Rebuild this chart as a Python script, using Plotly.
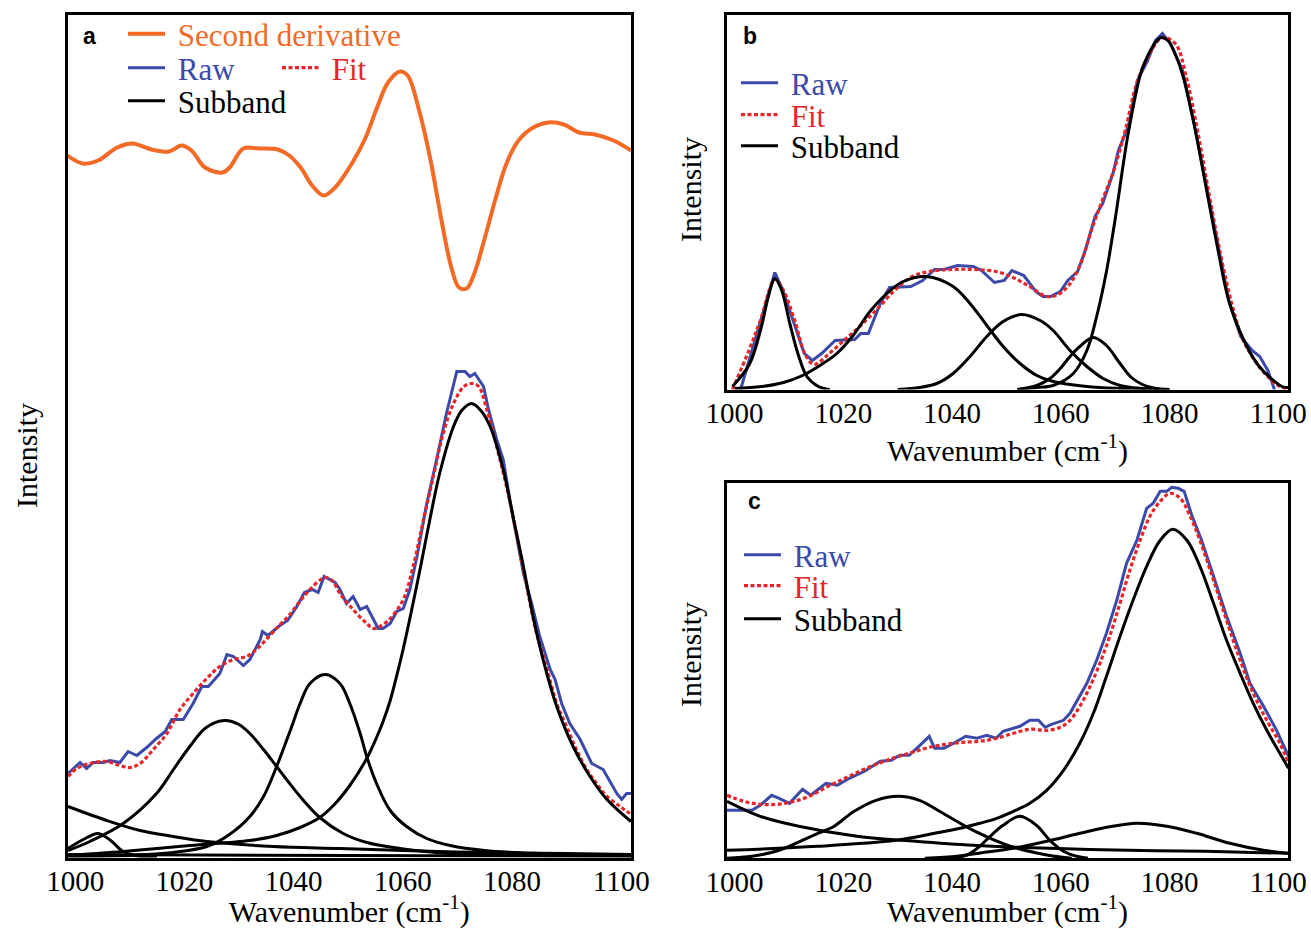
import plotly.graph_objects as go

# ---------------- Panel a data ----------------
A_D2_WN = [998.6, 1001.4, 1004.2, 1007.7, 1010.5, 1014.0, 1017.2, 1019.5, 1021.3, 1023.8, 1027.0, 1028.3,
           1030.8, 1033.6, 1037.1, 1039.2, 1041.3, 1043.4, 1045.5, 1047.6, 1051.0, 1053.2, 1055.3, 1057.3,
           1059.5, 1060.9, 1063.0, 1065.1, 1067.1, 1068.9, 1070.3, 1071.7, 1073.1, 1074.9, 1076.9, 1079.0,
           1081.2, 1083.9, 1086.7, 1089.5, 1092.3, 1095.2, 1098.6, 1101.8]
A_D2_I = [702, 694, 697, 710, 714, 708, 706, 712, 707, 690, 685, 690,
          709, 709, 708, 702, 690, 672, 662, 670, 697, 720, 750, 775,
          786, 782, 747, 697, 637, 590, 570, 569, 584, 617, 657, 694,
          717, 730, 735, 733, 725, 723, 717, 707]

A_RAW_WN = [998.7, 1000.9, 1002.1, 1003.3, 1005.2, 1006.4, 1008.2, 1009.7, 1011.3, 1013.1, 1014.9, 1016.5,
            1017.7, 1019.8, 1021.6, 1023.2, 1024.4, 1026.5, 1027.8, 1029.0, 1030.8, 1032.0, 1033.9, 1034.3,
            1035.3, 1037.5, 1038.9, 1040.5, 1042.0, 1043.4, 1044.5, 1045.6, 1047.6, 1048.5, 1049.7, 1050.9,
            1052.2, 1053.4, 1055.5, 1056.4, 1057.7, 1058.9, 1060.1, 1061.3, 1062.6, 1064.4, 1066.2, 1068.0,
            1069.9, 1071.4, 1072.3, 1073.2, 1074.8, 1075.7, 1077.2, 1078.4, 1079.6, 1080.9, 1082.1, 1083.6,
            1085.1, 1087.0, 1087.9, 1089.1, 1090.6, 1092.5, 1094.6, 1096.7, 1099.2, 1100.1, 1101.0, 1101.8]
A_RAW_I = [84, 95, 89, 95, 95, 97, 95, 106, 102, 110, 119, 126,
           138, 138, 154, 171, 171, 184, 203, 201, 192, 198, 218, 226,
           222, 232, 237, 250, 265, 268, 265, 281, 275, 268, 254, 261,
           248, 251, 229, 229, 234, 246, 249, 268, 301, 354, 398, 444,
           486, 486, 481, 484, 471, 448, 418, 398, 358, 318, 284, 254,
           221, 188, 178, 154, 134, 118, 94, 88, 64, 58, 64, 64]

A_FIT_WN = [998.7, 1000.3, 1002.7, 1005.8, 1008.2, 1010.0, 1011.9, 1014.3, 1016.8, 1019.2, 1021.6, 1024.1,
            1026.5, 1029.0, 1031.4, 1033.2, 1035.0, 1037.0, 1039.0, 1041.0, 1043.0, 1045.0, 1046.0, 1047.2,
            1048.5, 1050.9, 1053.4, 1054.6, 1055.8, 1057.7, 1060.1, 1061.9, 1063.8, 1065.6, 1067.4, 1069.3,
            1071.2, 1072.7, 1073.9, 1075.4, 1077.2, 1079.0, 1080.9, 1082.7, 1084.5, 1086.3, 1088.2, 1090.0,
            1091.8, 1093.7, 1095.5, 1097.4, 1099.8, 1101.6]
A_FIT_I = [81, 89, 94, 96, 92, 90, 94, 108, 124, 148, 164, 179,
           191, 198, 201, 208, 218, 230, 241, 255, 268, 278, 280, 276,
           264, 248, 234, 229, 231, 239, 258, 291, 338, 381, 424, 454,
           471, 474, 471, 448, 411, 371, 321, 271, 224, 191, 154, 131,
           108, 88, 74, 61, 51, 44]

A_SUB1_WN = [998.7, 1008.8, 1021.0, 1032.0, 1036.9, 1041.2, 1044.8, 1047.3, 1050.3, 1053.4, 1055.2, 1056.4,
             1057.7, 1058.9, 1060.1, 1063.2, 1065.0, 1066.8, 1069.3, 1070.8, 1072.6, 1074.3, 1076.0, 1078.4,
             1080.2, 1082.1, 1083.9, 1085.7, 1088.2, 1091.2, 1094.3, 1097.4, 1101.8]
A_SUB1_I = [2, 6, 12, 17, 22, 30, 40, 52, 72, 99, 120, 136,
            157, 182, 209, 289, 339, 385, 431, 447, 454, 447, 431, 388,
            341, 291, 240, 198, 151, 111, 81, 58, 36]
A_SUB2_WN = [998.6, 1010.0, 1018.0, 1024.1, 1028.0, 1032.0, 1034.5, 1036.9, 1039.4, 1041.2, 1043.0, 1045.8,
             1048.5, 1050.3, 1052.2, 1053.4, 1055.2, 1057.7, 1060.7, 1064.4, 1068.7, 1075.0, 1085.0, 1101.8]
A_SUB2_I = [1, 2, 5, 11, 22, 41, 61, 91, 127, 154, 174, 183,
            174, 154, 124, 101, 74, 47, 31, 19, 12, 7, 4, 2]
A_SUB3_WN = [998.7, 1002.7, 1008.8, 1014.9, 1018.0, 1021.0, 1024.0, 1027.4, 1030.0, 1032.0, 1034.5, 1036.9,
             1039.0, 1041.2, 1044.8, 1049.1, 1053.4, 1059.5, 1068.7, 1085.0, 1101.8]
A_SUB3_I = [7, 16, 34, 64, 88, 111, 130, 137, 133, 124, 108, 91,
            76, 61, 40, 24, 15, 9, 4, 3, 2]
A_SUB4_WN = [998.7, 1001.5, 1004.2, 1006.5, 1008.8, 1011.9, 1015.0]
A_SUB4_I = [9, 18, 24, 17, 6, 1, 0]
A_SUB5_WN = [998.7, 1005.8, 1011.9, 1018.0, 1024.1, 1036.3, 1048.5, 1060.0, 1075.0, 1090.0, 1101.8]
A_SUB5_I = [51, 37, 27, 21, 16, 11, 9, 7, 5, 4, 3]
A_SUB6_WN = [998.7, 1050.0, 1101.8]
A_SUB6_I = [3, 2, 1]

# ---------------- Panel b data ----------------
B_RAW_WN = [1001.1, 1003.2, 1005.4, 1007.4, 1008.9, 1011.1, 1012.8, 1014.3, 1016.0, 1018.5, 1022.1, 1023.2,
            1024.6, 1026.8, 1028.5, 1032.4, 1034.6, 1036.8, 1038.5, 1041.0, 1043.9, 1045.4, 1047.8, 1049.6,
            1051.0, 1053.2, 1055.4, 1056.7, 1058.1, 1059.9, 1061.3, 1063.1, 1064.5, 1066.3, 1067.7, 1069.6,
            1070.6, 1072.4, 1074.1, 1076.0, 1077.4, 1078.7, 1080.2, 1082.4, 1084.5, 1086.6, 1088.8, 1090.9,
            1093.1, 1095.2, 1096.6, 1098.1, 1099.3]
B_RAW_I = [0, 39, 79, 117, 99, 63, 36, 29, 36, 49, 50, 56,
           56, 86, 102, 103, 109, 120, 120, 124, 123, 119, 107, 109,
           119, 114, 98, 93, 93, 98, 109, 118, 139, 173, 186, 216,
           239, 263, 309, 329, 349, 356, 346, 319, 266, 209, 146, 89,
           53, 39, 33, 19, 0]
B_FIT_WN = [999.6, 1002.7, 1004.8, 1007.4, 1008.9, 1011.0, 1013.0, 1014.6, 1017.2, 1020.3, 1023.4, 1026.5,
            1029.6, 1032.7, 1035.8, 1039.9, 1044.0, 1048.1, 1051.2, 1054.3, 1057.4, 1059.5, 1061.6, 1063.6,
            1065.7, 1067.7, 1069.8, 1071.9, 1073.9, 1076.0, 1078.1, 1079.1, 1081.2, 1083.2, 1085.3, 1087.3,
            1089.4, 1091.5, 1093.5, 1095.6, 1097.7, 1099.7, 1101.8]
B_FIT_I = [0, 40, 70, 110, 100, 70, 35, 25, 35, 50, 65, 82,
           100, 113, 118, 120, 120, 118, 112, 103, 93, 95, 105, 125,
           160, 190, 220, 260, 305, 332, 350, 352, 345, 310, 255, 195,
           135, 85, 50, 30, 15, 5, 0]
B_SUB1_WN = [999.6, 1002.7, 1004.8, 1006.3, 1007.4, 1008.6, 1010.2, 1011.7, 1013.3, 1015.4, 1017.5]
B_SUB1_I = [3, 25, 60, 95, 111, 100, 65, 35, 13, 3, 0]
B_SUB2_WN = [1000.0, 1005.0, 1009.0, 1012.5, 1015.7, 1018.8, 1021.8, 1024.9, 1028.0, 1031.0, 1035.3, 1040.2,
             1043.3, 1046.4, 1049.4, 1052.5, 1055.6, 1058.6, 1064.8, 1070.9, 1078.0]
B_SUB2_I = [1, 3, 7, 14, 24, 36, 54, 78, 96, 108, 113, 103,
            86, 64, 43, 26, 14, 8, 3, 1, 0]
B_SUB3_WN = [1030.0, 1034.1, 1037.2, 1040.2, 1043.3, 1046.4, 1049.4, 1052.8, 1056.2, 1058.6, 1061.7, 1064.8,
             1067.8, 1070.9, 1075.0, 1080.0]
B_SUB3_I = [0, 2, 6, 16, 33, 53, 68, 75, 69, 59, 39, 23,
            11, 4, 1, 0]
B_SUB4_WN = [1052.0, 1055.6, 1058.0, 1059.9, 1061.7, 1063.5, 1066.0, 1068.4, 1070.9, 1073.0, 1075.0, 1077.5, 1080.0]
B_SUB4_I = [0, 4, 11, 21, 33, 43, 52, 44, 26, 12, 5, 1, 0]
B_SUB5_WN = [1052.0, 1055.6, 1058.6, 1062.3, 1064.8, 1066.6, 1068.4, 1070.0, 1072.4, 1074.8, 1076.2, 1077.4,
             1078.5, 1079.7, 1081.0, 1082.4, 1084.5, 1086.6, 1088.8, 1090.9, 1093.7, 1096.5, 1100.7, 1101.8]
B_SUB5_I = [0, 2, 4, 16, 39, 73, 118, 170, 256, 318, 336, 347,
            352, 349, 336, 315, 266, 206, 143, 89, 49, 23, 3, 2]

# ---------------- Panel c data ----------------
C_RAW_WN = [998.6, 1003.2, 1004.7, 1006.8, 1008.2, 1010.1, 1012.5, 1014.0, 1016.8, 1018.9, 1021.1, 1023.9,
            1026.8, 1028.8, 1030.4, 1032.1, 1033.9, 1035.8, 1036.8, 1038.5, 1040.3, 1042.5, 1044.6, 1046.4,
            1048.1, 1049.4, 1052.5, 1054.3, 1055.9, 1057.1, 1058.3, 1060.5, 1061.7, 1062.9, 1064.8, 1066.6,
            1068.4, 1070.3, 1072.1, 1074.0, 1075.8, 1077.0, 1078.3, 1079.5, 1080.4, 1081.6, 1082.7, 1084.1,
            1085.9, 1088.1, 1090.5, 1093.0, 1094.8, 1097.3, 1099.7, 1101.9]
C_RAW_I = [48, 48, 53, 63, 60, 55, 69, 63, 75, 73, 80, 87,
           97, 98, 103, 103, 112, 122, 110, 110, 115, 122, 120, 123,
           120, 127, 132, 138, 138, 131, 134, 138, 145, 157, 175, 198,
           225, 258, 295, 318, 350, 355, 367, 367, 371, 370, 367, 343,
           318, 282, 242, 205, 175, 152, 128, 102]
C_FIT_WN = [998.6, 1001.7, 1004.8, 1007.9, 1011.0, 1014.1, 1017.2, 1020.3, 1023.4, 1026.5, 1029.6, 1032.7,
            1035.8, 1038.9, 1042.0, 1045.1, 1048.2, 1051.3, 1054.3, 1057.4, 1059.9, 1061.7, 1063.5, 1065.4,
            1067.2, 1069.0, 1070.9, 1072.7, 1074.6, 1076.4, 1078.3, 1080.1, 1082.0, 1083.8, 1085.6, 1088.1,
            1090.5, 1093.0, 1095.4, 1097.9, 1100.3, 1101.9]
C_FIT_I = [63, 57, 54, 54, 57, 63, 72, 80, 88, 95, 101, 106,
           111, 114, 116, 117, 120, 125, 129, 128, 131, 138, 152, 172,
           195, 222, 255, 288, 318, 342, 357, 365, 360, 342, 318, 278,
           238, 198, 165, 138, 115, 95]
C_SUB1_WN = [998.6, 1015.3, 1029.6, 1036.8, 1041.5, 1045.1, 1048.2, 1051.3, 1054.3, 1057.4, 1060.5, 1063.5,
             1066.0, 1068.4, 1070.9, 1073.3, 1075.8, 1078.3, 1080.6, 1083.2, 1085.6, 1088.1, 1090.5, 1093.0,
             1095.4, 1097.9, 1100.3, 1101.9]
C_SUB1_I = [8, 12, 18, 25, 30, 35, 40, 47, 55, 68, 88, 115,
            145, 182, 222, 258, 292, 318, 329, 318, 292, 255, 218, 185,
            155, 128, 105, 90]
C_SUB2_WN = [998.6, 1004.7, 1011.8, 1022.5, 1033.2, 1043.9, 1058.1, 1072.4, 1086.6, 1101.8]
C_SUB2_I = [57, 42, 32, 22, 17, 13, 10, 8, 7, 5]
C_SUB3_WN = [998.6, 1003.2, 1008.2, 1015.3, 1018.0, 1022.0, 1026.0, 1030.1, 1034.0, 1038.0, 1043.9, 1050.8,
             1057.7, 1062.0]
C_SUB3_I = [0, 2, 8, 25, 31, 47, 58, 62, 58, 46, 28, 12, 3, 0]
C_SUB4_WN = [1040.0, 1043.0, 1045.1, 1047.0, 1049.4, 1052.5, 1055.5, 1058.0, 1060.5, 1062.9, 1065.0]
C_SUB4_I = [0, 4, 12, 22, 33, 42, 33, 18, 7, 2, 0]
C_SUB5_WN = [1035.0, 1041.0, 1046.0, 1051.3, 1057.4, 1063.5, 1068.5, 1074.0, 1079.5, 1085.0, 1091.1, 1097.3, 1101.9]
C_SUB5_I = [0, 2, 6, 10, 17, 25, 31, 35, 32, 25, 15, 8, 5]

TICKS = [1000, 1020, 1040, 1060, 1080, 1100]
XRANGE = [998.6, 1101.8]

ORANGE = "#F26A25"
BLUE = "#3B4AA8"
RED = "#E4262B"
BLACK = "#000000"
SERIF = "Liberation Serif, Times New Roman, serif"
SANS = "Liberation Sans, Arial, sans-serif"
NB = "\u00a0"

fig = go.Figure()


def add_line(x, y, color, width, xa, ya, name=None, legend=None, dash=None, shape="spline", show=False):
    fig.add_trace(go.Scatter(
        x=x, y=y, mode="lines", name=(NB + name) if name else "", showlegend=show,
        legend=legend if legend else "legend",
        line=dict(color=color, width=width, dash=dash, shape=shape, smoothing=1.0 if shape == "spline" else None),
        xaxis=xa, yaxis=ya, hoverinfo="skip"))


DOT = "4px,2.5px"

# Panel a
add_line(A_D2_WN, A_D2_I, ORANGE, 4, "x", "y", "Second derivative", "legend", show=True)
add_line(A_RAW_WN, A_RAW_I, BLUE, 3, "x", "y", "Raw", "legend2", shape="linear", show=True)
add_line(A_FIT_WN, A_FIT_I, RED, 3.2, "x", "y", "Fit", "legend3", dash=DOT, show=True)
for i, (sx, sy) in enumerate([(A_SUB1_WN, A_SUB1_I), (A_SUB2_WN, A_SUB2_I), (A_SUB3_WN, A_SUB3_I),
                              (A_SUB4_WN, A_SUB4_I), (A_SUB5_WN, A_SUB5_I), (A_SUB6_WN, A_SUB6_I)]):
    add_line(sx, sy, BLACK, 3, "x", "y", "Subband", "legend4", show=(i == 0))

# Panel b
add_line(B_RAW_WN, B_RAW_I, BLUE, 3, "x2", "y2", "Raw", "legend5", shape="linear", show=True)
add_line(B_FIT_WN, B_FIT_I, RED, 3.2, "x2", "y2", "Fit", "legend6", dash=DOT, show=True)
for i, (sx, sy) in enumerate([(B_SUB1_WN, B_SUB1_I), (B_SUB2_WN, B_SUB2_I), (B_SUB3_WN, B_SUB3_I),
                              (B_SUB4_WN, B_SUB4_I), (B_SUB5_WN, B_SUB5_I)]):
    add_line(sx, sy, BLACK, 3, "x2", "y2", "Subband", "legend7", show=(i == 0))

# Panel c
add_line(C_RAW_WN, C_RAW_I, BLUE, 3, "x3", "y3", "Raw", "legend8", shape="linear", show=True)
add_line(C_FIT_WN, C_FIT_I, RED, 3.2, "x3", "y3", "Fit", "legend9", dash=DOT, show=True)
for i, (sx, sy) in enumerate([(C_SUB1_WN, C_SUB1_I), (C_SUB2_WN, C_SUB2_I), (C_SUB3_WN, C_SUB3_I),
                              (C_SUB4_WN, C_SUB4_I), (C_SUB5_WN, C_SUB5_I)]):
    add_line(sx, sy, BLACK, 3, "x3", "y3", "Subband", "legend10", show=(i == 0))

W, H = 1311, 929


def px(x):
    return x / W


def py(y):
    return 1 - y / H


def xaxis(dom, anchor):
    return dict(domain=dom, anchor=anchor, range=XRANGE, tickvals=TICKS, ticks="",
                showline=True, linecolor="black", linewidth=2.5, mirror=True, automargin=False,
                showgrid=False, zeroline=False, ticklabelstandoff=-4,
                tickfont=dict(family=SERIF, size=29, color="black"),
                title=dict(text="Wavenumber (cm<sup>-1</sup>)", standoff=11,
                           font=dict(family=SERIF, size=30, color="black")))


def yaxis(dom, anchor, rng):
    return dict(domain=dom, anchor=anchor, range=rng, showticklabels=False, ticks="",
                showline=True, linecolor="black", linewidth=2.5, mirror=True, automargin=False,
                showgrid=False, zeroline=False)


def leg(xp, yp, color):
    return dict(x=px(xp), y=py(yp), xanchor="left", yanchor="middle", bgcolor="rgba(0,0,0,0)",
                borderwidth=0, font=dict(family=SERIF, size=31, color=color), itemwidth=37,
                itemclick=False, itemdoubleclick=False)


def note(text, xp, yp, size, family, angle=0):
    return dict(text=text, x=px(xp), y=py(yp), xref="paper", yref="paper", showarrow=False,
                xanchor="center", yanchor="middle", textangle=angle,
                font=dict(family=family, size=size, color="black"))


layout = dict(
    width=W, height=H, margin=dict(l=0, r=0, t=0, b=0, autoexpand=False),
    paper_bgcolor="white", plot_bgcolor="white",
    xaxis=xaxis([px(67.5), px(631)], "y"),
    yaxis=yaxis([py(857.5), py(15)], "x", [0, 842.5]),
    xaxis2=xaxis([px(727), px(1288)], "y2"),
    yaxis2=yaxis([py(389.5), py(15)], "x2", [0, 374.5]),
    xaxis3=xaxis([px(727), px(1288)], "y3"),
    yaxis3=yaxis([py(858.3), py(483.3)], "x3", [0, 375]),
    legend=leg(123, 34, ORANGE),
    legend2=leg(123, 68, BLUE),
    legend3=leg(277, 68, RED),
    legend4=leg(123, 101, BLACK),
    legend5=leg(736, 83, BLUE),
    legend6=leg(736, 115, RED),
    legend7=leg(736, 146, BLACK),
    legend8=leg(739, 555, BLUE),
    legend9=leg(739, 586, RED),
    legend10=leg(739, 619, BLACK),
    annotations=[
        note("<b>a</b>", 89, 36, 23, SANS),
        note("<b>b</b>", 750, 36, 23, SANS),
        note("<b>c</b>", 754, 501, 23, SANS),
        note("Intensity", 26, 455, 30, SERIF, -90),
        note("Intensity", 690, 190, 30, SERIF, -90),
        note("Intensity", 690, 655, 30, SERIF, -90),
    ],
)
fig.update_layout(**layout)
fig.write_html("out.html")
